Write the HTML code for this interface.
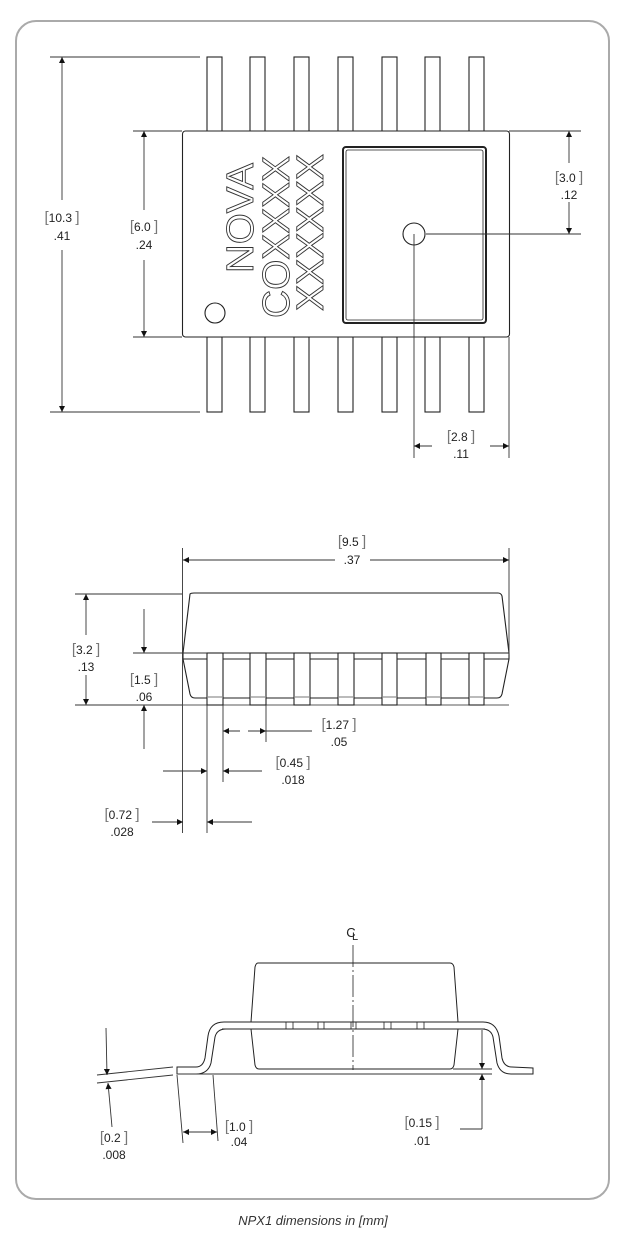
<!DOCTYPE html>
<html><head><meta charset="utf-8"><style>
html,body{margin:0;padding:0;background:#fff;}
svg{display:block;}
text{font-family:"Liberation Sans",sans-serif;font-size:12px;fill:#222;}
.b{fill:#777;font-size:15px;}
</style></head><body>
<svg width="624" height="1235" viewBox="0 0 624 1235" xmlns="http://www.w3.org/2000/svg">
<defs>
<marker id="a" viewBox="0 0 10 10" refX="10" refY="5" markerWidth="9" markerHeight="6" orient="auto" markerUnits="userSpaceOnUse"><path d="M0,0 L10,5 L0,10 z" fill="#111"/></marker>
</defs>
<rect x="16" y="21" width="593" height="1178" rx="20" fill="none" stroke="#aaa" stroke-width="2"/>

<g stroke="#222" stroke-width="1.1" fill="none">
<g fill="#fff">
<rect x="207" y="57" width="15" height="75"/><rect x="250" y="57" width="15" height="75"/><rect x="294" y="57" width="15" height="75"/><rect x="338" y="57" width="15" height="75"/><rect x="382" y="57" width="15" height="75"/><rect x="425" y="57" width="15" height="75"/><rect x="469" y="57" width="15" height="75"/>
<rect x="207" y="337" width="15" height="75"/><rect x="250" y="337" width="15" height="75"/><rect x="294" y="337" width="15" height="75"/><rect x="338" y="337" width="15" height="75"/><rect x="382" y="337" width="15" height="75"/><rect x="425" y="337" width="15" height="75"/><rect x="469" y="337" width="15" height="75"/>
</g>
<rect x="182.5" y="131" width="327" height="206" rx="3" fill="#fff"/>
<rect x="343" y="147" width="143" height="176" rx="3" stroke-width="2"/>
<rect x="346" y="150" width="137" height="170" rx="2" stroke-width="0.8"/>
<circle cx="414" cy="234" r="11"/>
<circle cx="215" cy="313" r="10"/>
</g>
<text transform="translate(253,273) rotate(-90)" textLength="110" lengthAdjust="spacingAndGlyphs" style="font-size:38px;fill:none;stroke:#333;stroke-width:0.9">NOVA</text>
<text transform="translate(289,318) rotate(-90)" textLength="162" lengthAdjust="spacingAndGlyphs" style="font-size:38px;fill:none;stroke:#333;stroke-width:0.9">COXXXX</text>
<text transform="translate(323,311) rotate(-90)" textLength="157" lengthAdjust="spacingAndGlyphs" style="font-size:38px;fill:none;stroke:#333;stroke-width:0.9">XXXXXX</text>

<g stroke="#333" stroke-width="0.9" fill="none">
<line x1="50" y1="57" x2="200" y2="57"/><line x1="50" y1="412" x2="200" y2="412"/>
<line x1="62" y1="200" x2="62" y2="57" marker-end="url(#a)"/><line x1="62" y1="250" x2="62" y2="412" marker-end="url(#a)"/>
<line x1="133" y1="131" x2="182" y2="131"/><line x1="133" y1="337" x2="182" y2="337"/>
<line x1="144" y1="210" x2="144" y2="131" marker-end="url(#a)"/><line x1="144" y1="260" x2="144" y2="337" marker-end="url(#a)"/>
<line x1="509" y1="131" x2="581" y2="131"/><line x1="426" y1="234" x2="581" y2="234"/>
<line x1="569" y1="163" x2="569" y2="131" marker-end="url(#a)"/><line x1="569" y1="202" x2="569" y2="234" marker-end="url(#a)"/>
<line x1="414" y1="234" x2="414" y2="458"/><line x1="509" y1="337" x2="509" y2="458"/>
<line x1="432" y1="446" x2="414" y2="446" marker-end="url(#a)"/><line x1="490" y1="446" x2="509" y2="446" marker-end="url(#a)"/>
</g>
<text x="62" y="222" text-anchor="middle"><tspan class="b">[</tspan>10.3 <tspan class="b">]</tspan></text>
<text x="62" y="240" text-anchor="middle">.41</text>
<text x="144" y="231" text-anchor="middle"><tspan class="b">[</tspan>6.0 <tspan class="b">]</tspan></text>
<text x="144" y="249" text-anchor="middle">.24</text>
<text x="569" y="182" text-anchor="middle"><tspan class="b">[</tspan>3.0 <tspan class="b">]</tspan></text>
<text x="569" y="199" text-anchor="middle">.12</text>
<text x="461" y="441" text-anchor="middle"><tspan class="b">[</tspan>2.8 <tspan class="b">]</tspan></text>
<text x="461" y="458" text-anchor="middle">.11</text>

<g stroke="#222" stroke-width="1.1" fill="none">
<path d="M190,594 Q191,593 194,593 L498,593 Q501,593 502,596 L509,653 L509,659 L502,694 Q501,698 497,698 L195,698 Q191,698 190,694 L183,659 L183,653 Z" fill="#fff"/>
<line x1="183" y1="653" x2="509" y2="653"/><line x1="183" y1="659" x2="509" y2="659"/>
<line x1="183" y1="705" x2="509" y2="705" stroke-width="0.8"/>
<g fill="#fff">
<rect x="207" y="653" width="16" height="52"/><rect x="250" y="653" width="16" height="52"/><rect x="294" y="653" width="16" height="52"/><rect x="338" y="653" width="16" height="52"/><rect x="382" y="653" width="15" height="52"/><rect x="426" y="653" width="15" height="52"/><rect x="469" y="653" width="15" height="52"/>
</g>
<g stroke="#bbb" stroke-width="2"><line x1="208" y1="697" x2="222" y2="697"/><line x1="251" y1="697" x2="265" y2="697"/><line x1="295" y1="697" x2="309" y2="697"/><line x1="339" y1="697" x2="353" y2="697"/><line x1="383" y1="697" x2="396" y2="697"/><line x1="427" y1="697" x2="440" y2="697"/><line x1="470" y1="697" x2="483" y2="697"/></g>
</g>
<g stroke="#333" stroke-width="0.9" fill="none">
<line x1="182.5" y1="548" x2="182.5" y2="833"/><line x1="509" y1="548" x2="509" y2="655"/>
<line x1="335" y1="560" x2="183" y2="560" marker-end="url(#a)"/><line x1="370" y1="560" x2="509" y2="560" marker-end="url(#a)"/>
<line x1="75" y1="594" x2="182" y2="594"/><line x1="75" y1="705" x2="182" y2="705"/>
<line x1="86" y1="635" x2="86" y2="594" marker-end="url(#a)"/><line x1="86" y1="675" x2="86" y2="705" marker-end="url(#a)"/>
<line x1="133" y1="653" x2="207" y2="653"/>
<line x1="144" y1="609" x2="144" y2="653" marker-end="url(#a)"/><line x1="144" y1="749" x2="144" y2="705" marker-end="url(#a)"/>
<line x1="223" y1="705" x2="223" y2="742"/><line x1="266" y1="705" x2="266" y2="742"/>
<line x1="240" y1="731" x2="223" y2="731" marker-end="url(#a)"/><line x1="248" y1="731" x2="266" y2="731" marker-end="url(#a)"/>
<line x1="266" y1="731" x2="312" y2="731"/>
<line x1="207" y1="705" x2="207" y2="833"/><line x1="223" y1="742" x2="223" y2="782"/>
<line x1="163" y1="771" x2="207" y2="771" marker-end="url(#a)"/><line x1="262" y1="771" x2="223" y2="771" marker-end="url(#a)"/>
<line x1="152" y1="822" x2="183" y2="822" marker-end="url(#a)"/><line x1="252" y1="822" x2="207" y2="822" marker-end="url(#a)"/>
</g>
<text x="352" y="546" text-anchor="middle"><tspan class="b">[</tspan>9.5 <tspan class="b">]</tspan></text>
<text x="352" y="564" text-anchor="middle">.37</text>
<text x="86" y="654" text-anchor="middle"><tspan class="b">[</tspan>3.2 <tspan class="b">]</tspan></text>
<text x="86" y="671" text-anchor="middle">.13</text>
<text x="144" y="684" text-anchor="middle"><tspan class="b">[</tspan>1.5 <tspan class="b">]</tspan></text>
<text x="144" y="701" text-anchor="middle">.06</text>
<text x="339" y="729" text-anchor="middle"><tspan class="b">[</tspan>1.27 <tspan class="b">]</tspan></text>
<text x="339" y="746" text-anchor="middle">.05</text>
<text x="293" y="767" text-anchor="middle"><tspan class="b">[</tspan>0.45 <tspan class="b">]</tspan></text>
<text x="293" y="784" text-anchor="middle">.018</text>
<text x="122" y="819" text-anchor="middle"><tspan class="b">[</tspan>0.72 <tspan class="b">]</tspan></text>
<text x="122" y="836" text-anchor="middle">.028</text>

<text x="351" y="937" text-anchor="middle" style="font-size:13px">C</text>
<text x="355" y="940" text-anchor="middle" style="font-size:11px">L</text>
<g stroke="#222" stroke-width="1" fill="none">
<path d="M258,963 L450,963 Q453,963 454,967 L458,1022 L458,1029 L454,1065 Q453,1069 450,1069 L259,1069 Q256,1069 255,1065 L251,1029 L251,1022 L255,967 Q256,963 258,963 Z" fill="#fff"/>
<path d="M177,1067 L196,1067 Q203,1067 205,1058 L208,1036 Q210,1022 224,1022 L483,1022 Q496,1022 499,1036 L502,1058 Q504,1067 512,1067 L533,1068 L533,1074 L511,1074 Q500,1074 497,1063 L493,1037 Q491,1029 482,1029 L226,1029 Q217,1029 215,1037 L211,1063 Q208,1074 196,1074 L177,1074 Z" fill="#fff"/>
<line x1="222" y1="1029" x2="485" y2="1029"/>
<g stroke-width="0.8"><path d="M286,1022v7M293,1022v7M318,1022v7M324,1022v7M351,1022v7M356,1022v7M384,1022v7M391,1022v7M417,1022v7M424,1022v7"/></g>
<line x1="353" y1="945" x2="353" y2="1070" stroke-dasharray="22,3,2,3" stroke-width="0.8"/>
</g>
<g stroke="#333" stroke-width="0.9" fill="none">
<line x1="177" y1="1074" x2="492" y2="1074"/><line x1="453" y1="1069" x2="492" y2="1069"/>
<line x1="97" y1="1075" x2="173" y2="1067"/><line x1="97" y1="1083" x2="173" y2="1075"/>
<line x1="106" y1="1028" x2="107" y2="1075" marker-end="url(#a)"/><line x1="112" y1="1127" x2="108" y2="1083" marker-end="url(#a)"/>
<line x1="177" y1="1075" x2="183" y2="1143"/><line x1="213" y1="1075" x2="218" y2="1141"/>
<line x1="200" y1="1132" x2="183" y2="1132" marker-end="url(#a)"/><line x1="200" y1="1132" x2="217" y2="1132" marker-end="url(#a)"/>
<line x1="482" y1="1030" x2="482" y2="1069" marker-end="url(#a)"/><line x1="482" y1="1129" x2="482" y2="1074" marker-end="url(#a)"/>
<line x1="482" y1="1129" x2="460" y2="1129"/>
</g>
<text x="114" y="1142" text-anchor="middle"><tspan class="b">[</tspan>0.2 <tspan class="b">]</tspan></text>
<text x="114" y="1159" text-anchor="middle">.008</text>
<text x="239" y="1131" text-anchor="middle"><tspan class="b">[</tspan>1.0 <tspan class="b">]</tspan></text>
<text x="239" y="1146" text-anchor="middle">.04</text>
<text x="422" y="1127" text-anchor="middle"><tspan class="b">[</tspan>0.15 <tspan class="b">]</tspan></text>
<text x="422" y="1145" text-anchor="middle">.01</text>

<text x="313" y="1225" text-anchor="middle" style="font-size:13px;font-style:italic;fill:#333">NPX1 dimensions in [mm]</text>
</svg>
</body></html>
